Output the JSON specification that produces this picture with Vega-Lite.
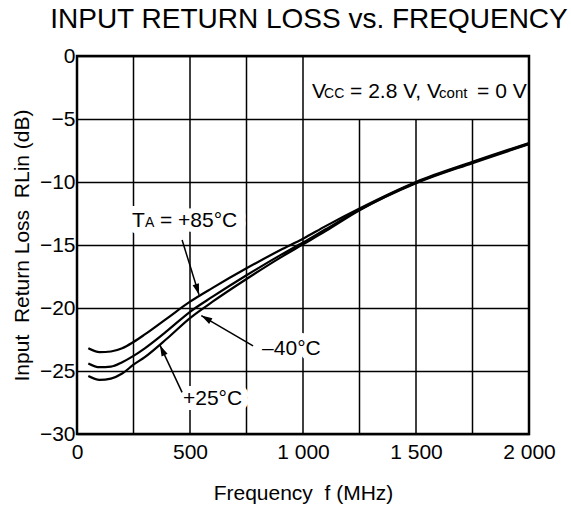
{
  "$schema": "https://vega.github.io/schema/vega-lite/v6.json",
  "width": 452,
  "height": 378,
  "autosize": {"type": "none"},
  "padding": {"left": 77, "top": 56, "right": 42, "bottom": 77},
  "background": "white",
  "title": {"text": "INPUT RETURN LOSS vs. FREQUENCY", "fontSize": 28, "font": "Liberation Sans", "fontWeight": "normal", "color": "black", "anchor": "middle", "dx": 6, "offset": 11},
  "config": {
    "font": "Liberation Sans",
    "view": {"stroke": "black", "strokeWidth": 2.5},
    "axis": {"labelFont": "Liberation Sans", "titleFont": "Liberation Sans", "labelColor": "black", "titleColor": "black", "labelFontSize": 21, "titleFontSize": 21, "titleFontWeight": "normal", "ticks": false, "domain": false}
  },
  "datasets": {
    "curves": [
      {"temp": "+85", "f": 50, "db": -23.2}, {"temp": "+85", "f": 100, "db": -23.5}, {"temp": "+85", "f": 150, "db": -23.45}, {"temp": "+85", "f": 200, "db": -23.2}, {"temp": "+85", "f": 250, "db": -22.7}, {"temp": "+85", "f": 300, "db": -22.1}, {"temp": "+85", "f": 400, "db": -20.8}, {"temp": "+85", "f": 500, "db": -19.5}, {"temp": "+85", "f": 600, "db": -18.4}, {"temp": "+85", "f": 750, "db": -16.85}, {"temp": "+85", "f": 900, "db": -15.4}, {"temp": "+85", "f": 1000, "db": -14.5}, {"temp": "+85", "f": 1100, "db": -13.5}, {"temp": "+85", "f": 1250, "db": -12.1}, {"temp": "+85", "f": 1500, "db": -10.0}, {"temp": "+85", "f": 1750, "db": -8.4}, {"temp": "+85", "f": 2000, "db": -6.9},
      {"temp": "+25", "f": 50, "db": -24.4}, {"temp": "+25", "f": 100, "db": -24.7}, {"temp": "+25", "f": 150, "db": -24.65}, {"temp": "+25", "f": 200, "db": -24.3}, {"temp": "+25", "f": 250, "db": -23.8}, {"temp": "+25", "f": 300, "db": -23.2}, {"temp": "+25", "f": 400, "db": -21.8}, {"temp": "+25", "f": 500, "db": -20.3}, {"temp": "+25", "f": 600, "db": -19.1}, {"temp": "+25", "f": 750, "db": -17.4}, {"temp": "+25", "f": 900, "db": -15.8}, {"temp": "+25", "f": 1000, "db": -14.8}, {"temp": "+25", "f": 1100, "db": -13.75}, {"temp": "+25", "f": 1250, "db": -12.2}, {"temp": "+25", "f": 1500, "db": -10.05}, {"temp": "+25", "f": 1750, "db": -8.45}, {"temp": "+25", "f": 2000, "db": -6.95},
      {"temp": "-40", "f": 50, "db": -25.4}, {"temp": "-40", "f": 100, "db": -25.7}, {"temp": "-40", "f": 150, "db": -25.6}, {"temp": "-40", "f": 200, "db": -25.2}, {"temp": "-40", "f": 250, "db": -24.5}, {"temp": "-40", "f": 300, "db": -23.9}, {"temp": "-40", "f": 400, "db": -22.4}, {"temp": "-40", "f": 500, "db": -20.8}, {"temp": "-40", "f": 600, "db": -19.5}, {"temp": "-40", "f": 750, "db": -17.7}, {"temp": "-40", "f": 900, "db": -16.0}, {"temp": "-40", "f": 1000, "db": -14.95}, {"temp": "-40", "f": 1100, "db": -13.9}, {"temp": "-40", "f": 1250, "db": -12.25}, {"temp": "-40", "f": 1500, "db": -10.1}, {"temp": "-40", "f": 1750, "db": -8.5}, {"temp": "-40", "f": 2000, "db": -7.0}
    ],
    "vgrid": [
      {"f": 250, "db": -30, "db2": 0}, {"f": 500, "db": -30, "db2": 0}, {"f": 750, "db": -30, "db2": 0}, {"f": 1000, "db": -30, "db2": 0},
      {"f": 1250, "db": -30, "db2": -5}, {"f": 1500, "db": -30, "db2": -5}, {"f": 1750, "db": -30, "db2": -5}
    ],
    "notes": [
      {"key": "ta", "f": 243, "db": -13.55, "label": "TA = +85°C"},
      {"key": "m40", "f": 819, "db": -23.7, "label": "–40°C"},
      {"key": "p25", "f": 469, "db": -27.7, "label": "+25°C"},
      {"key": "vcc", "f": 1040, "db": -3.33, "label": "VCC = 2.8 V, Vcont = 0 V"}
    ],
    "arrows": [
      {"key": "p85", "f": 540, "db": -18.95, "f2": 465, "db2": -14.6},
      {"key": "m40", "f": 550, "db": -20.6, "f2": 779, "db2": -23.0},
      {"key": "p25", "f": 367, "db": -22.95, "f2": 465, "db2": -26.7}
    ]
  },
  "encoding": {
    "x": {"field": "f", "type": "quantitative", "scale": {"domain": [0, 2000], "nice": false}, "axis": {"title": "Frequency\u00a0\u00a0f (MHz)", "values": [0, 500, 1000, 1500, 2000], "labelExpr": "replace(format(datum.value, ','), ',', ' ')", "grid": false, "labelFlush": false, "labelPadding": 7, "titleY": 59, "titleBaseline": "middle"}},
    "y": {"field": "db", "type": "quantitative", "scale": {"domain": [-30, 0], "nice": false}, "axis": {"title": "Input\u00a0\u00a0Return Loss\u00a0\u00a0RLin (dB)", "values": [0, -5, -10, -15, -20, -25, -30], "grid": true, "gridColor": "black", "gridWidth": 1.5, "gridOpacity": 1, "labelPadding": 2, "titleX": -55, "titleY": 189, "titleAngle": -90, "titleBaseline": "middle", "titleAlign": "center"}}
  },
  "layer": [
    {"data": {"name": "vgrid"}, "mark": {"type": "rule", "color": "black", "strokeWidth": 1.5}, "encoding": {"y2": {"field": "db2"}}},
    {"data": {"name": "notes"}, "transform": [{"filter": "datum.key != 'vcc'"}], "mark": {"type": "text", "align": "left", "baseline": "alphabetic", "fontSize": 21, "fill": "white", "stroke": "white", "strokeWidth": 14, "strokeJoin": "round"}, "encoding": {"text": {"field": "label"}}},
    {"data": {"name": "curves"}, "mark": {"type": "line", "color": "black", "strokeWidth": 2.2, "interpolate": "monotone"}, "encoding": {"detail": {"field": "temp"}}},
    {"data": {"name": "arrows"}, "mark": {"type": "rule", "color": "black", "strokeWidth": 1.5}, "encoding": {"x2": {"field": "f2"}, "y2": {"field": "db2"}}},
    {"data": {"name": "arrows"}, "transform": [{"filter": "datum.key == 'p85'"}], "mark": {"type": "point", "shape": "M0,0L-0.3,1L0.3,1Z", "filled": true, "color": "black", "opacity": 1, "size": 484, "angle": 162.8}},
    {"data": {"name": "arrows"}, "transform": [{"filter": "datum.key == 'm40'"}], "mark": {"type": "point", "shape": "M0,0L-0.3,1L0.3,1Z", "filled": true, "color": "black", "opacity": 1, "size": 484, "angle": 300.2}},
    {"data": {"name": "arrows"}, "transform": [{"filter": "datum.key == 'p25'"}], "mark": {"type": "point", "shape": "M0,0L-0.3,1L0.3,1Z", "filled": true, "color": "black", "opacity": 1, "size": 484, "angle": 335}},
    {"data": {"name": "notes"}, "transform": [{"filter": "datum.key == 'm40' || datum.key == 'p25'"}], "mark": {"type": "text", "align": "left", "baseline": "alphabetic", "fontSize": 21, "color": "black"}, "encoding": {"text": {"field": "label"}}},
    {"data": {"name": "notes"}, "transform": [{"filter": "datum.key == 'ta'"}], "mark": {"type": "text", "text": "T", "align": "left", "baseline": "alphabetic", "fontSize": 21, "color": "black"}},
    {"data": {"name": "notes"}, "transform": [{"filter": "datum.key == 'ta'"}], "mark": {"type": "text", "text": "A", "align": "left", "baseline": "alphabetic", "fontSize": 14, "dx": 13, "color": "black"}},
    {"data": {"name": "notes"}, "transform": [{"filter": "datum.key == 'ta'"}], "mark": {"type": "text", "text": "= +85°C", "align": "left", "baseline": "alphabetic", "fontSize": 21, "dx": 28, "color": "black"}},
    {"data": {"name": "notes"}, "transform": [{"filter": "datum.key == 'vcc'"}], "mark": {"type": "text", "text": "V", "align": "left", "baseline": "alphabetic", "fontSize": 21, "color": "black"}},
    {"data": {"name": "notes"}, "transform": [{"filter": "datum.key == 'vcc'"}], "mark": {"type": "text", "text": "CC", "align": "left", "baseline": "alphabetic", "fontSize": 14, "dx": 12, "color": "black"}},
    {"data": {"name": "notes"}, "transform": [{"filter": "datum.key == 'vcc'"}], "mark": {"type": "text", "text": "= 2.8 V,", "align": "left", "baseline": "alphabetic", "fontSize": 21, "dx": 38, "color": "black"}},
    {"data": {"name": "notes"}, "transform": [{"filter": "datum.key == 'vcc'"}], "mark": {"type": "text", "text": "V", "align": "left", "baseline": "alphabetic", "fontSize": 21, "dx": 115, "color": "black"}},
    {"data": {"name": "notes"}, "transform": [{"filter": "datum.key == 'vcc'"}], "mark": {"type": "text", "text": "cont", "align": "left", "baseline": "alphabetic", "fontSize": 15, "dx": 127, "color": "black"}},
    {"data": {"name": "notes"}, "transform": [{"filter": "datum.key == 'vcc'"}], "mark": {"type": "text", "text": "= 0 V", "align": "left", "baseline": "alphabetic", "fontSize": 21, "dx": 165, "color": "black"}}
  ]
}
